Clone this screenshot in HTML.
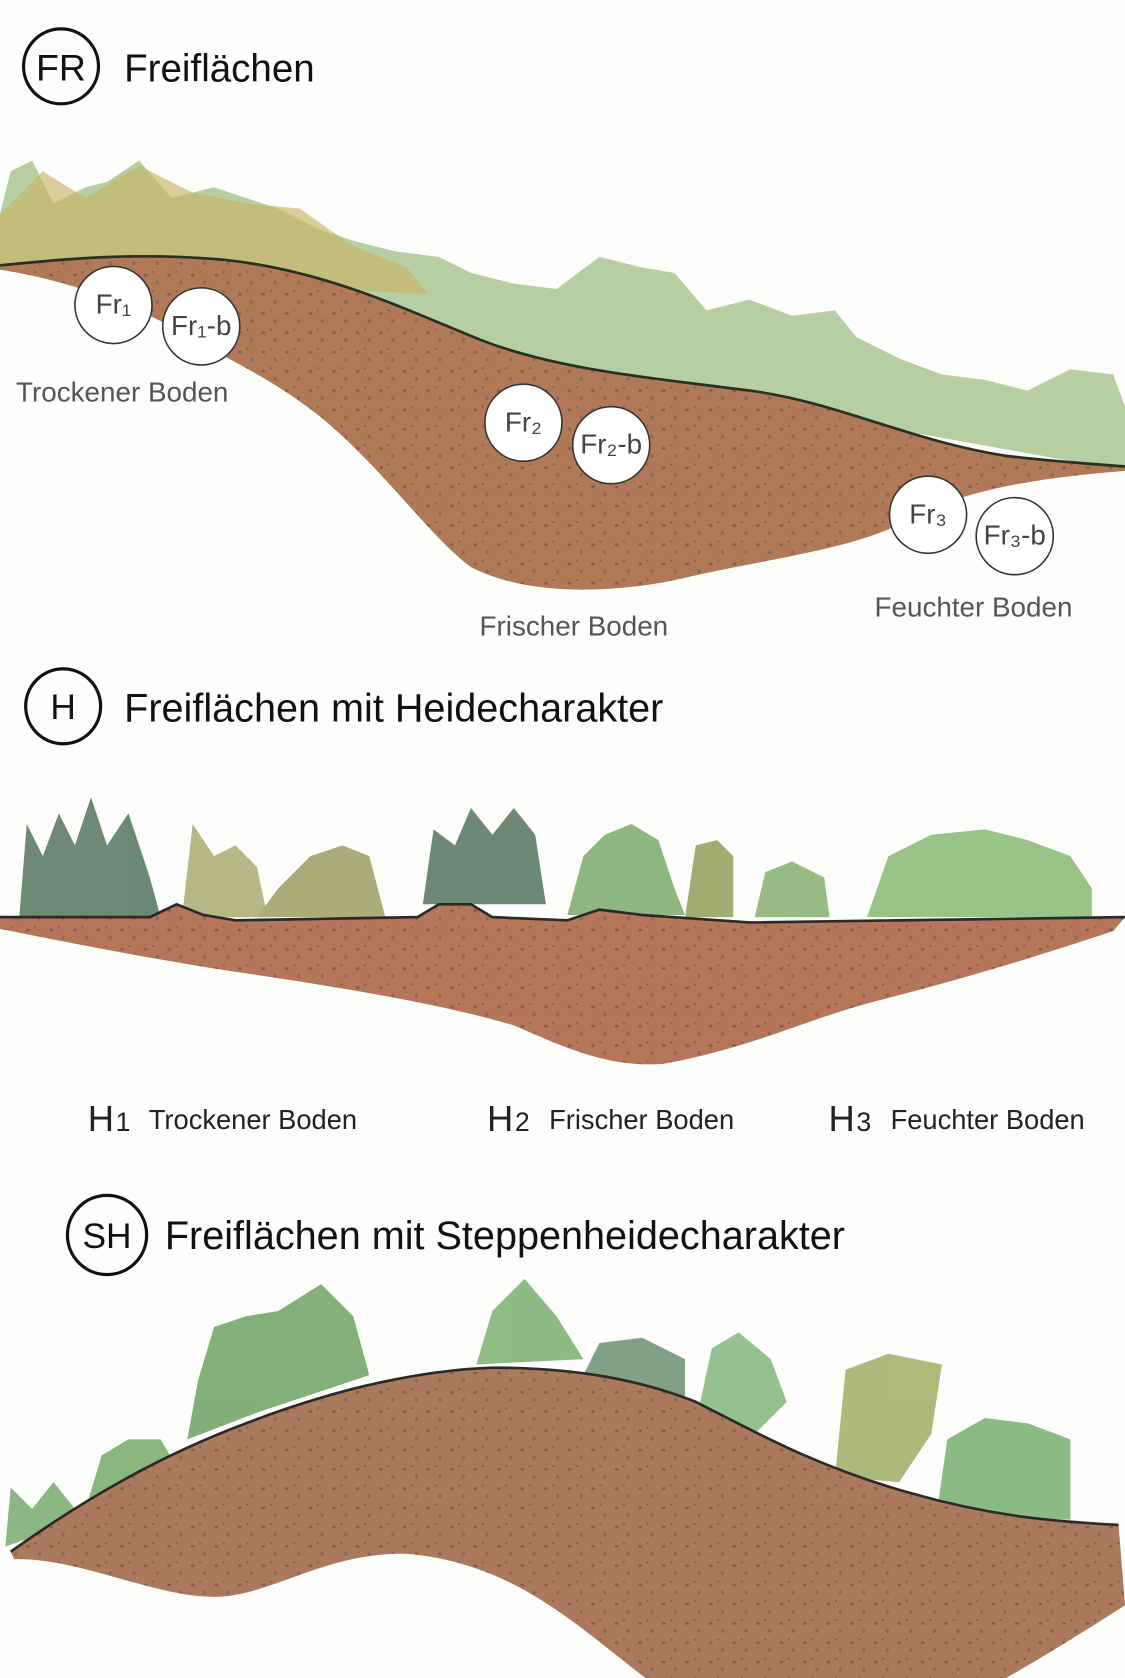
<!DOCTYPE html>
<html><head><meta charset="utf-8"><style>
html,body{margin:0;padding:0;background:#fdfdfc;}
svg{display:block;}
text{font-family:"Liberation Sans",sans-serif;}
</style></head><body>
<svg width="1125" height="1678" viewBox="0 0 1051 1568" preserveAspectRatio="none" xmlns="http://www.w3.org/2000/svg">
<defs>
<pattern id="dots" width="22" height="18" patternUnits="userSpaceOnUse">
<ellipse cx="4" cy="5" rx="1.8" ry="1.3" fill="#6e4a33" opacity=".6"/>
<ellipse cx="15" cy="12" rx="1.5" ry="2" fill="#6e5a4e" opacity=".55"/>
<ellipse cx="11" cy="2" rx="1" ry="1" fill="#5c3d2a" opacity=".5"/>
</pattern>
</defs>
<rect width="1051" height="1568" fill="#fdfdfc"/>

<!-- Section FR -->
<circle cx="57" cy="62" r="35" fill="none" stroke="#111" stroke-width="3"/>
<text x="57" y="75" font-size="35" text-anchor="middle" fill="#111">FR</text>
<text x="116" y="76" font-size="36" fill="#111">Freiflächen</text>

<path d="M0,200 L10,160 L30,150 L50,190 L80,175 L100,170 L130,150 L160,185 L200,175 L230,185 L260,195 L300,215 L330,225 L370,235 L410,240 L440,255 L480,265 L520,270 L560,240 L600,250 L630,255 L660,290 L700,280 L740,295 L780,290 L800,315 L840,335 L880,350 L920,355 L960,365 L1000,345 L1040,350 L1051,380 L1051,440 L0,250 Z" fill="#86b068" opacity=".6"/>
<path d="M0,200 L40,160 L80,185 L130,155 L180,180 L230,190 L280,195 L330,230 L380,250 L400,275 L300,270 L150,245 L0,250 Z" fill="#c9b466" opacity=".65"/>
<path d="M0,248 C60,242 120,236 200,242 C300,250 380,290 450,318 C520,345 600,352 700,365 C780,375 850,412 940,426 C990,432 1030,434 1051,436 L1051,440 C980,446 900,455 840,490 C790,515 700,525 640,540 C570,556 490,556 440,530 C400,500 360,440 300,390 C250,350 200,330 150,300 C100,275 50,260 0,252 Z" fill="#b07a58"/>
<path d="M0,248 C60,242 120,236 200,242 C300,250 380,290 450,318 C520,345 600,352 700,365 C780,375 850,412 940,426 C990,432 1030,434 1051,436 L1051,440 C980,446 900,455 840,490 C790,515 700,525 640,540 C570,556 490,556 440,530 C400,500 360,440 300,390 C250,350 200,330 150,300 C100,275 50,260 0,252 Z" fill="url(#dots)"/>
<path d="M0,248 C60,242 120,236 200,242 C300,250 380,290 450,318 C520,345 600,352 700,365 C780,375 850,412 940,426 C990,432 1030,434 1051,436" fill="none" stroke="#2a3020" stroke-width="2.5"/>

<g fill="#fff" stroke="#333" stroke-width="1.5">
<circle cx="106" cy="285" r="36"/><circle cx="188" cy="305" r="36"/>
<circle cx="489" cy="395" r="36"/><circle cx="571" cy="416" r="36"/>
<circle cx="867" cy="481" r="36"/><circle cx="948" cy="501" r="36"/>
</g>
<g font-size="26" fill="#444" text-anchor="middle">
<text x="106" y="293">Fr₁</text><text x="188" y="313">Fr₁-b</text>
<text x="489" y="403">Fr₂</text><text x="571" y="424">Fr₂-b</text>
<text x="867" y="489">Fr₃</text><text x="948" y="509">Fr₃-b</text>
</g>
<g font-size="26" fill="#555">
<text x="15" y="375">Trockener Boden</text>
<text x="448" y="594">Frischer Boden</text>
<text x="817" y="576">Feuchter Boden</text>
</g>

<!-- Section H -->
<circle cx="59" cy="660" r="35" fill="none" stroke="#111" stroke-width="3"/>
<text x="59" y="672" font-size="33" text-anchor="middle" fill="#111">H</text>
<text x="116" y="674" font-size="37" fill="#111">Freiflächen mit Heidecharakter</text>

<g opacity=".7">
<path d="M18,857 L25,770 L40,800 L55,760 L70,790 L85,745 L100,790 L120,760 L140,820 L150,857 Z" fill="#2f5a3a"/>
<path d="M170,857 L180,770 L200,800 L220,790 L240,810 L250,857 Z" fill="#9a9a55"/>
<path d="M240,857 L260,830 L290,800 L320,790 L345,800 L360,857 Z" fill="#8a8a45"/>
<path d="M395,845 L405,775 L425,790 L440,755 L460,780 L480,755 L500,780 L510,845 Z" fill="#2f5a3a"/>
<path d="M530,855 L545,800 L565,780 L590,770 L615,785 L630,830 L640,855 Z" fill="#5f9a4a"/>
<path d="M640,857 L650,790 L670,785 L685,800 L685,857 Z" fill="#7a8a35"/>
<path d="M705,857 L715,815 L740,805 L770,820 L775,857 Z" fill="#6da050"/>
<path d="M810,857 L830,800 L870,780 L920,775 L960,785 L1000,800 L1020,830 L1020,857 Z" fill="#6eaa55"/>
</g>
<path d="M0,857 L140,857 L165,845 L190,855 L220,860 L390,857 L410,845 L440,845 L460,857 L530,860 L560,850 L600,855 L700,862 L1051,857 L1040,870 C950,900 880,920 820,935 C760,950 700,980 620,994 C570,998 530,980 480,958 C400,935 300,920 200,905 C120,892 60,880 0,868 Z" fill="#b5765a"/>
<path d="M0,857 L140,857 L165,845 L190,855 L220,860 L390,857 L410,845 L440,845 L460,857 L530,860 L560,850 L600,855 L700,862 L1051,857 L1040,870 C950,900 880,920 820,935 C760,950 700,980 620,994 C570,998 530,980 480,958 C400,935 300,920 200,905 C120,892 60,880 0,868 Z" fill="url(#dots)"/>
<path d="M0,857 L140,857 L165,845 L190,855 L220,860 L390,857 L410,845 L440,845 L460,857 L530,860 L560,850 L600,855 L700,862 L1051,857" fill="none" stroke="#2a2a2a" stroke-width="2.5"/>

<g fill="#222">
<text x="82" y="1057" font-size="34">H</text><text x="108" y="1057" font-size="25">1</text>
<text x="139" y="1055" font-size="25.5">Trockener Boden</text>
<text x="455" y="1057" font-size="34">H</text><text x="481" y="1057" font-size="25">2</text>
<text x="513" y="1055" font-size="25.5">Frischer Boden</text>
<text x="774" y="1057" font-size="34">H</text><text x="800" y="1057" font-size="25">3</text>
<text x="832" y="1055" font-size="25.5">Feuchter Boden</text>
</g>

<!-- Section SH -->
<circle cx="100" cy="1154" r="37" fill="none" stroke="#111" stroke-width="3"/>
<text x="100" y="1166" font-size="33" text-anchor="middle" fill="#111">SH</text>
<text x="154" y="1167" font-size="37" fill="#111">Freiflächen mit Steppenheidecharakter</text>

<g opacity=".7">
<path d="M5,1445 L10,1390 L30,1410 L50,1385 L70,1410 L80,1420 Z" fill="#5c9a50"/>
<path d="M80,1410 L95,1360 L120,1345 L150,1345 L165,1370 L120,1395 Z" fill="#5a9a48"/>
<path d="M175,1345 L185,1290 L200,1240 L230,1230 L260,1225 L300,1200 L330,1230 L345,1285 L300,1300 L240,1320 Z" fill="#4f8e40"/>
<path d="M445,1275 L460,1225 L490,1195 L520,1230 L545,1270 Z" fill="#5ea050"/>
<path d="M545,1285 L560,1255 L600,1250 L640,1270 L640,1305 L600,1300 Z" fill="#4d7a55"/>
<path d="M650,1330 L665,1260 L690,1245 L720,1270 L735,1310 L700,1345 Z" fill="#6aa860"/>
<path d="M780,1380 L790,1280 L830,1265 L880,1275 L870,1340 L840,1385 Z" fill="#8c9c45"/>
<path d="M875,1415 L885,1345 L920,1325 L960,1330 L1000,1345 L1000,1420 Z" fill="#5aa050"/>
</g>
<path d="M10,1450 C80,1400 150,1360 230,1330 C320,1295 400,1280 460,1278 C540,1278 600,1290 650,1310 C700,1335 760,1370 850,1395 C930,1418 990,1422 1045,1425 L1051,1500 C1020,1520 980,1545 940,1568 L603,1568 C540,1520 480,1460 380,1452 C300,1450 250,1495 194,1492 C140,1490 70,1455 13,1457 Z" fill="#ab7a5c"/>
<path d="M10,1450 C80,1400 150,1360 230,1330 C320,1295 400,1280 460,1278 C540,1278 600,1290 650,1310 C700,1335 760,1370 850,1395 C930,1418 990,1422 1045,1425 L1051,1500 C1020,1520 980,1545 940,1568 L603,1568 C540,1520 480,1460 380,1452 C300,1450 250,1495 194,1492 C140,1490 70,1455 13,1457 Z" fill="url(#dots)"/>
<path d="M10,1450 C80,1400 150,1360 230,1330 C320,1295 400,1280 460,1278 C540,1278 600,1290 650,1310 C700,1335 760,1370 850,1395 C930,1418 990,1422 1045,1425" fill="none" stroke="#2a2a2a" stroke-width="2.5"/>
</svg>
</body></html>
